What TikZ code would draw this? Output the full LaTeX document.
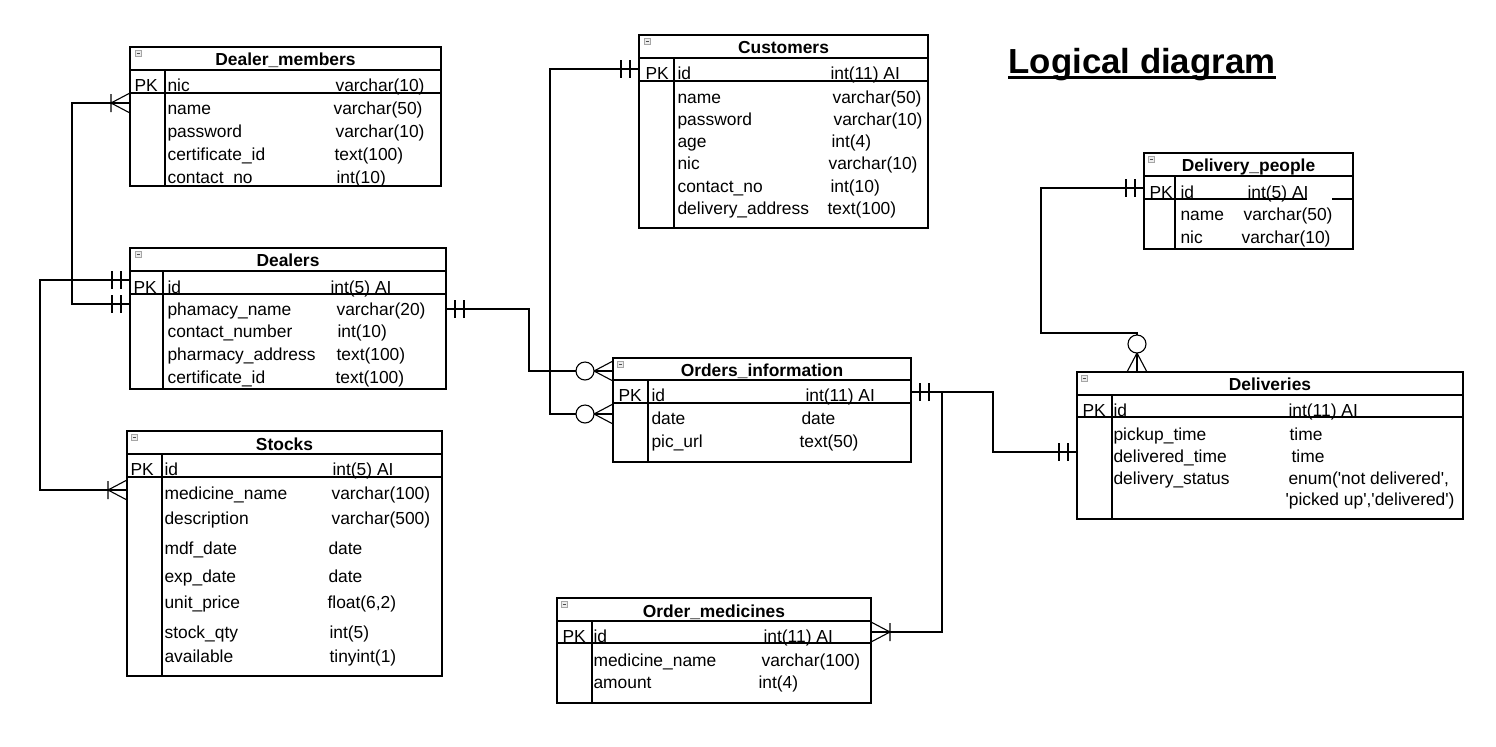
\documentclass[tikz,border=0pt]{standalone}
\usepackage{fontspec}
\setmainfont{Liberation Sans}
\tikzset{
  pics/onlyone/.style={code={
    \draw (-18,-9) -- (-18,9) (-9,-9) -- (-9,9);}},
  pics/onemany/.style={code={
    \draw (0,-10) -- (-19,0) -- (0,10) (-19,-9) -- (-19,9);}},
  pics/zeromany/.style={code={
    \draw (0,-10) -- (-19,0) -- (0,10) (-19,0) -- (0,0);
    \draw[fill=white] (-28,0) circle[radius=4.5pt];}},
  pics/minbox/.style={code={
    \draw[gray!70,fill=gray!15,line width=0.3pt] (0,0) rectangle (6,6);
    \draw[gray!60!black,line width=0.4pt] (1.5,3) -- (4.5,3);}}
}
\begin{document}
\begin{tikzpicture}[x=0.5pt,y=-0.5pt,line width=0.55pt,
  hdr/.style={anchor=base,inner sep=0pt,font=\fontsize{8.7}{10}\selectfont\bfseries},
  fld/.style={anchor=base west,inner sep=0pt,font=\fontsize{8.7}{10}\selectfont}]
\useasboundingbox (0,0) rectangle (1496,746);

% title
\node[anchor=base west,inner sep=0pt,font=\fontsize{17.4}{20}\selectfont\bfseries] (ttl) at (1008,73) {Logical diagram};
\draw[line width=1.5pt] ([yshift=-2pt]ttl.base west) -- ([yshift=-2pt]ttl.base east);

% Dealer_members
\draw (130,47) rectangle (441,186);
\draw (130,70) -- (441,70);
\draw (130,93) -- (441,93);
\draw (165,70) -- (165,186);
\pic at (135,50) {minbox};
\node[hdr] (dm) at (285.5,65.5) {Dealer\_members};
\node[fld] (dm-pk) at (134,91) {PK};
\node[fld] (dm-nic) at (167,91) {nic};
\node[fld] (dm-nic-t) at (335,91) {varchar(10)};
\node[fld] (dm-name) at (167,114) {name};
\node[fld] (dm-name-t) at (333,114) {varchar(50)};
\node[fld] (dm-pw) at (167,137) {password};
\node[fld] (dm-pw-t) at (335,137) {varchar(10)};
\node[fld] (dm-cert) at (167,160) {certificate\_id};
\node[fld] (dm-cert-t) at (334,160) {text(100)};
\node[fld] (dm-con) at (167,183) {contact\_no};
\node[fld] (dm-con-t) at (336,183) {int(10)};

% Dealers
\draw (130,248) rectangle (446,389);
\draw (130,271) -- (446,271);
\draw (130,294) -- (446,294);
\draw (163,271) -- (163,389);
\pic at (135,251) {minbox};
\node[hdr] (dlr) at (288,266.5) {Dealers};
\node[fld] (dlr-pk) at (133,293) {PK};
\node[fld] (dlr-id) at (167,293) {id};
\node[fld] (dlr-id-t) at (330,293) {int(5) AI};
\node[fld] (dlr-ph) at (167,315) {phamacy\_name};
\node[fld] (dlr-ph-t) at (336,315) {varchar(20)};
\node[fld] (dlr-con) at (167,337) {contact\_number};
\node[fld] (dlr-con-t) at (337,337) {int(10)};
\node[fld] (dlr-adr) at (167,360) {pharmacy\_address};
\node[fld] (dlr-adr-t) at (336,360) {text(100)};
\node[fld] (dlr-cert) at (167,383) {certificate\_id};
\node[fld] (dlr-cert-t) at (335,383) {text(100)};

% Stocks
\draw (127,431) rectangle (442,676);
\draw (127,454) -- (442,454);
\draw (127,477) -- (442,477);
\draw (162,454) -- (162,676);
\pic at (131,434) {minbox};
\node[hdr] (stk) at (284.5,450) {Stocks};
\node[fld] (stk-pk) at (130,475) {PK};
\node[fld] (stk-id) at (164,475) {id};
\node[fld] (stk-id-t) at (332,475) {int(5) AI};
\node[fld] (stk-med) at (164,499) {medicine\_name};
\node[fld] (stk-med-t) at (331,499) {varchar(100)};
\node[fld] (stk-desc) at (164,524) {description};
\node[fld] (stk-desc-t) at (331,524) {varchar(500)};
\node[fld] (stk-mdf) at (164,554) {mdf\_date};
\node[fld] (stk-mdf-t) at (328,554) {date};
\node[fld] (stk-exp) at (164,582) {exp\_date};
\node[fld] (stk-exp-t) at (328,582) {date};
\node[fld] (stk-price) at (164,608) {unit\_price};
\node[fld] (stk-price-t) at (327,608) {float(6,2)};
\node[fld] (stk-qty) at (164,638) {stock\_qty};
\node[fld] (stk-qty-t) at (329,638) {int(5)};
\node[fld] (stk-av) at (164,662) {available};
\node[fld] (stk-av-t) at (329,662) {tinyint(1)};

% Customers
\draw (639,35) rectangle (928,228);
\draw (639,58) -- (928,58);
\draw (639,81) -- (928,81);
\draw (674,58) -- (674,228);
\pic at (644,38) {minbox};
\node[hdr] (cus) at (783.5,53) {Customers};
\node[fld] (cus-pk) at (645,79.5) {PK};
\node[fld] (cus-id) at (677,79.5) {id};
\node[fld] (cus-id-t) at (830,79.5) {int(11) AI};
\node[fld] (cus-name) at (677,103) {name};
\node[fld] (cus-name-t) at (832,103) {varchar(50)};
\node[fld] (cus-pw) at (677,125) {password};
\node[fld] (cus-pw-t) at (833,125) {varchar(10)};
\node[fld] (cus-age) at (677,147.5) {age};
\node[fld] (cus-age-t) at (831,147.5) {int(4)};
\node[fld] (cus-nic) at (677,169.5) {nic};
\node[fld] (cus-nic-t) at (828,169.5) {varchar(10)};
\node[fld] (cus-con) at (677,192.5) {contact\_no};
\node[fld] (cus-con-t) at (830,192.5) {int(10)};
\node[fld] (cus-adr) at (677,214.5) {delivery\_address};
\node[fld] (cus-adr-t) at (827,214.5) {text(100)};

% Orders_information
\draw (613,358) rectangle (911,462);
\draw (613,380) -- (911,380);
\draw (613,403) -- (911,403);
\draw (648,380) -- (648,462);
\pic at (617,361) {minbox};
\node[hdr] (ord) at (762,376) {Orders\_information};
\node[fld] (ord-pk) at (618,401) {PK};
\node[fld] (ord-id) at (651,401) {id};
\node[fld] (ord-id-t) at (805,401) {int(11) AI};
\node[fld] (ord-date) at (651,424) {date};
\node[fld] (ord-date-t) at (801,424) {date};
\node[fld] (ord-pic) at (651,447) {pic\_url};
\node[fld] (ord-pic-t) at (799,447) {text(50)};

% Order_medicines
\draw (557,598) rectangle (871,703);
\draw (557,621) -- (871,621);
\draw (557,643) -- (871,643);
\draw (592,621) -- (592,703);
\pic at (561,601) {minbox};
\node[hdr] (om) at (714,617) {Order\_medicines};
\node[fld] (om-pk) at (562,642) {PK};
\node[fld] (om-id) at (593,642) {id};
\node[fld] (om-id-t) at (763,642) {int(11) AI};
\node[fld] (om-med) at (593,666) {medicine\_name};
\node[fld] (om-med-t) at (761,666) {varchar(100)};
\node[fld] (om-amt) at (593,688) {amount};
\node[fld] (om-amt-t) at (758,688) {int(4)};

% Delivery_people
\draw (1144,153) rectangle (1353,249);
\draw (1144,176) -- (1353,176);
\draw (1144,199) -- (1307,199) (1332,199) -- (1353,199);
\draw (1175,176) -- (1175,249);
\pic at (1148,156) {minbox};
\node[hdr] (dp) at (1248.5,171.5) {Delivery\_people};
\node[fld] (dp-pk) at (1149,198) {PK};
\node[fld] (dp-id) at (1180,198) {id};
\node[fld] (dp-id-t) at (1247,198) {int(5) AI};
\node[fld] (dp-name) at (1180,220) {name};
\node[fld] (dp-name-t) at (1243,220) {varchar(50)};
\node[fld] (dp-nic) at (1180,243) {nic};
\node[fld] (dp-nic-t) at (1241,243) {varchar(10)};

% Deliveries
\draw (1077,372) rectangle (1463,519);
\draw (1077,395) -- (1463,395);
\draw (1077,417) -- (1463,417);
\draw (1112,395) -- (1112,519);
\pic at (1081,375) {minbox};
\node[hdr] (dlv) at (1270,390.5) {Deliveries};
\node[fld] (dlv-pk) at (1082,416) {PK};
\node[fld] (dlv-id) at (1113,416) {id};
\node[fld] (dlv-id-t) at (1288,416) {int(11) AI};
\node[fld] (dlv-pick) at (1113,440) {pickup\_time};
\node[fld] (dlv-pick-t) at (1289,440) {time};
\node[fld] (dlv-del) at (1113,462) {delivered\_time};
\node[fld] (dlv-del-t) at (1291,462) {time};
\node[fld] (dlv-st) at (1113,484) {delivery\_status};
\node[fld] (dlv-st-t) at (1288,484) {enum(\textquotesingle not delivered\textquotesingle,};
\node[fld] (dlv-st-t2) at (1285,505) {\textquotesingle picked up\textquotesingle,\textquotesingle delivered\textquotesingle)};

% connector ends
\coordinate (dm-in) at (130,103);
\coordinate (dlr-o1) at (130,280);
\coordinate (dlr-o2) at (130,304);
\coordinate (dlr-o3) at (446,309);
\coordinate (stk-in) at (127,490);
\coordinate (cus-o) at (639,69);
\coordinate (ord-in1) at (613,371);
\coordinate (ord-in2) at (613,414);
\coordinate (ord-o) at (911,392);
\coordinate (om-in) at (871,632);
\coordinate (dp-o) at (1144,188);
\coordinate (dlv-in1) at (1077,452);
\coordinate (dlv-in2) at (1137,372);

% connectors
\draw (dlr-o2) -- ++(-58,0) |- (dm-in);
\draw (dlr-o1) -- ++(-90,0) |- (stk-in);
\draw (dlr-o3) -- ++(83,0) |- (ord-in1);
\draw (cus-o) -- ++(-89,0) |- (ord-in2);
\draw (ord-o) -- ++(82,0) |- (dlv-in1);
\draw (ord-o) -- ++(31,0) |- (om-in);
\draw (dp-o) -- ++(-103,0) -- ++(0,145) -| (dlv-in2);

% ends
\pic at (dm-in) {onemany};
\pic at (stk-in) {onemany};
\pic[rotate=180] at (om-in) {onemany};
\pic at (dlr-o1) {onlyone};
\pic at (dlr-o2) {onlyone};
\pic[rotate=180] at (dlr-o3) {onlyone};
\pic at (cus-o) {onlyone};
\pic[rotate=180] at (ord-o) {onlyone};
\pic at (dlv-in1) {onlyone};
\pic at (dp-o) {onlyone};
\pic at (ord-in1) {zeromany};
\pic at (ord-in2) {zeromany};
\pic[rotate=-90] at (dlv-in2) {zeromany};
\end{tikzpicture}
\end{document}
